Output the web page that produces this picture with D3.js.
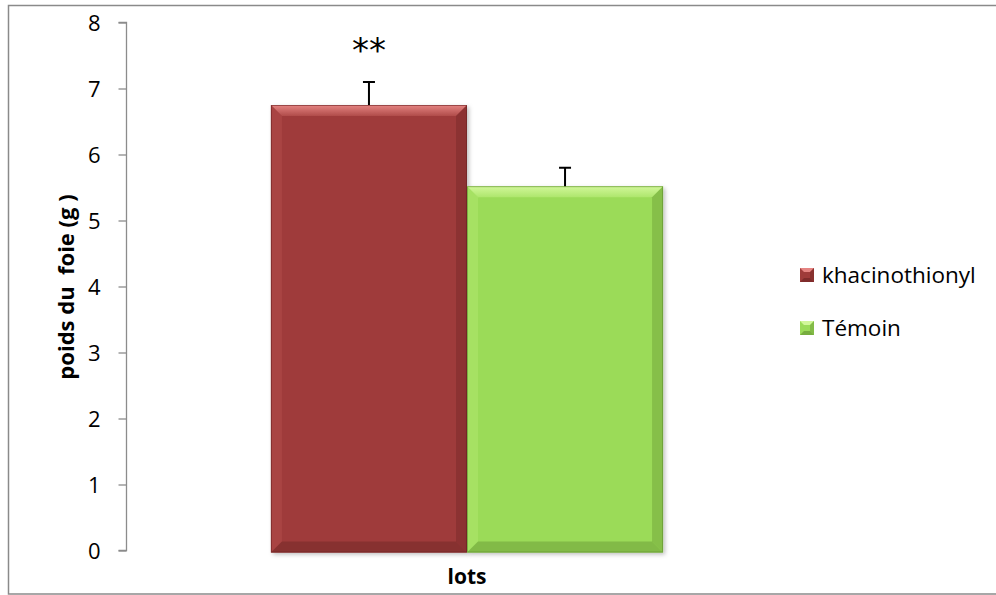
<!DOCTYPE html>
<html>
<head>
<meta charset="utf-8">
<script src="https://cdn.jsdelivr.net/npm/d3@7"></script>
<style>
  body { margin: 0; background: #fff; }
  svg { display: block; font-family: "Open Sans", "Lato", sans-serif; }
</style>
</head>
<body>
<script>
// data
var groups = ["lots"];
var series = ["khacinothionyl", "Témoin"];
var means = [6.75, 5.52];
var errors = [0.35, 0.28];
var yTicks = [0, 1, 2, 3, 4, 5, 6, 7, 8];
var marks = ["**", ""];

var W = 996, H = 595;
var colors = {
  khacinothionyl: {base: "#9f3b3a", light: "#e58482", side: "#b04c4a", dark: "#6a2221", bottom: "#7e2d2c"},
  "Témoin": {base: "#9bdb58", light: "#d2f79a", side: "#aee66d", dark: "#5f8d2f", bottom: "#78ad40"}
};

var svg = d3.select("body").append("svg").attr("width", W).attr("height", H);

// chart frame
svg.append("rect").attr("x", 8.5).attr("y", 5.5).attr("width", 995).attr("height", 588.5)
  .attr("fill", "none").attr("stroke", "#8a8a8a").attr("stroke-width", 1.5);

var y = d3.scaleLinear().domain([0, 8]).range([550.5, 22.5]);
var x0 = d3.scaleBand().domain(groups).range([127, 807]).paddingOuter(0.367).paddingInner(0);
var x1 = d3.scaleBand().domain(series).range([0, x0.bandwidth()]);

// y axis
var yAxis = svg.append("g").attr("transform", "translate(126.5,0)")
  .call(d3.axisLeft(y).tickValues(yTicks).tickSize(8).tickPadding(18).tickFormat(d3.format("d")));
yAxis.select(".domain").attr("stroke", "#8c8c8c").attr("stroke-width", 1.3).attr("d", "M-8," + y(8) + "H0V" + y(0) + "H-8");
yAxis.selectAll(".tick line").attr("stroke", "#8c8c8c").attr("stroke-width", 1.3);
yAxis.selectAll(".tick text").attr("font-size", 22).attr("fill", "#000")
  .attr("font-family", "Open Sans, sans-serif").attr("dy", "0.36em");

// axis titles
svg.append("text").attr("transform", "translate(74,287) rotate(-90)")
  .attr("text-anchor", "middle").attr("font-weight", "bold").attr("font-size", 22)
  .style("white-space", "pre").text("poids du  foie (g )");
svg.append("text").attr("x", x0("lots") + x0.bandwidth() / 2).attr("y", 584)
  .attr("text-anchor", "middle").attr("font-weight", "bold").attr("font-size", 21).text("lots");

// bars with bevel
var bev = 11;
var defs = svg.append("defs");
var shadow = defs.append("filter").attr("id", "sh").attr("x", "-10%").attr("y", "-10%").attr("width", "130%").attr("height", "130%");
shadow.append("feDropShadow").attr("dx", 2).attr("dy", 2).attr("stdDeviation", 2).attr("flood-color", "#000").attr("flood-opacity", 0.25);

series.forEach(function (s, i) {
  var c = colors[s];
  var bx = x0("lots") + x1(s), bw = x1.bandwidth();
  var top = y(means[i]), bot = y(0) + 2;
  var g = svg.append("g");
  g.append("rect").attr("x", bx).attr("y", top).attr("width", bw).attr("height", bot - top)
    .attr("fill", c.base).attr("filter", "url(#sh)");
  var x2 = bx + bw;
  // top bevel
  var tg = defs.append("linearGradient").attr("id", "tg" + i).attr("x1", 0).attr("y1", 0).attr("x2", 0).attr("y2", 1);
  tg.append("stop").attr("offset", 0).attr("stop-color", c.light);
  tg.append("stop").attr("offset", 1).attr("stop-color", c.side);
  g.append("path").attr("d", "M" + bx + "," + top + "H" + x2 + "L" + (x2 - bev) + "," + (top + bev) + "H" + (bx + bev) + "Z")
    .attr("fill", "url(#tg" + i + ")");
  // left bevel
  g.append("path").attr("d", "M" + bx + "," + top + "L" + (bx + bev) + "," + (top + bev) + "V" + (bot - bev) + "L" + bx + "," + bot + "Z")
    .attr("fill", c.side).attr("opacity", 0.55);
  // right bevel
  g.append("path").attr("d", "M" + x2 + "," + top + "L" + (x2 - bev) + "," + (top + bev) + "V" + (bot - bev) + "L" + x2 + "," + bot + "Z")
    .attr("fill", c.dark).attr("opacity", 0.35);
  // bottom bevel
  g.append("path").attr("d", "M" + bx + "," + bot + "L" + (bx + bev) + "," + (bot - bev) + "H" + (x2 - bev) + "L" + x2 + "," + bot + "Z")
    .attr("fill", c.bottom).attr("opacity", 0.7);
  g.append("rect").attr("x", bx + 0.5).attr("y", top + 0.5).attr("width", bw - 1).attr("height", bot - top - 1)
    .attr("fill", "none").attr("stroke", c.dark).attr("stroke-width", 1).attr("opacity", 0.6);

  // error bar
  var cx = bx + bw / 2;
  svg.append("path").attr("d", "M" + cx + "," + top + "V" + y(means[i] + errors[i]) + "M" + (cx - 6) + "," + y(means[i] + errors[i]) + "H" + (cx + 6))
    .attr("stroke", "#000").attr("stroke-width", 2).attr("fill", "none");

  if (marks[i]) {
    svg.append("text").attr("x", cx).attr("y", 62).attr("text-anchor", "middle")
      .attr("font-size", 34).attr("font-family", "DejaVu Sans, sans-serif").text(marks[i]);
  }
});

// legend
var leg = svg.append("g").attr("transform", "translate(800,0)");
series.forEach(function (s, i) {
  var c = colors[s];
  var ly = 268 + i * 53;
  var sg = leg.append("g").attr("transform", "translate(0," + ly + ")");
  sg.append("rect").attr("width", 14).attr("height", 14).attr("fill", c.base);
  sg.append("path").attr("d", "M0,0H14L10,4H4Z").attr("fill", c.light);
  sg.append("path").attr("d", "M0,14H14L10,10H4Z").attr("fill", c.dark).attr("opacity", 0.6);
  sg.append("path").attr("d", "M14,0V14L10,10V4Z").attr("fill", c.dark).attr("opacity", 0.4);
  sg.append("text").attr("x", 22).attr("y", 15).attr("font-size", 22.5).text(s);
});
</script>
</body>
</html>
